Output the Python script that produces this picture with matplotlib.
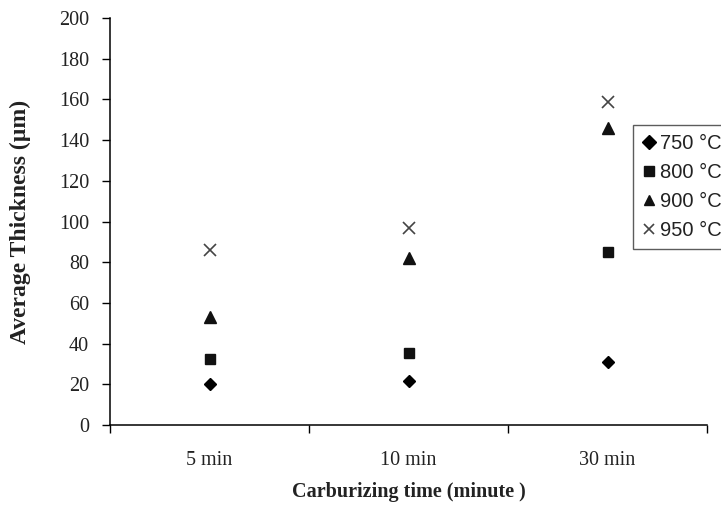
import numpy as np
import matplotlib.pyplot as plt

times = ['5 min', '10 min', '30 min']
t750 = [20.3, 21.5, 31.0]
t800 = [32.6, 35.2, 84.9]
t900 = [53.2, 81.9, 146.0]
t950 = [86.0, 97.0, 159.0]

fig = plt.figure(figsize=(7.21, 5.15), dpi=100)
ax = fig.add_axes([0.1526, 0.1748, 0.828, 0.790])

xpos = np.arange(len(times)) + 0.5
ax.plot(xpos, t750, 'D', color='black', ms=6, ls='none', label='750 \u00b0C')
ax.plot(xpos, t800, 's', color='#111111', ms=7.5, ls='none', label='800 \u00b0C')
ax.plot(xpos, t900, '^', color='#111111', ms=8, ls='none', label='900 \u00b0C')
ax.plot(xpos, t950, 'x', color='#444444', ms=9, mew=1.2, ls='none', label='950 \u00b0C')

ax.set_xlim(0, 3)
ax.set_ylim(0, 200)
ax.set_yticks(range(0, 201, 20))
ax.set_xticks([0, 1, 2, 3])
ax.set_xticklabels([])
ax.set_xticks(xpos, minor=True)
ax.set_xticklabels(times, minor=True, fontfamily='Liberation Serif', fontsize=14.5,
                   color='#222222')
ax.tick_params(axis='x', which='minor', length=0, pad=19)
ax.tick_params(axis='x', which='major', length=6, direction='out', width=1)
ax.tick_params(axis='y', length=6, direction='out', width=1, pad=9)
for lab in ax.get_yticklabels():
    lab.set_fontfamily('Liberation Serif')
    lab.set_fontsize(14.5)
    lab.set_color('#222222')

for s in ['top', 'right']:
    ax.spines[s].set_visible(False)
for s in ['left', 'bottom']:
    ax.spines[s].set_linewidth(1.1)

ax.set_ylabel('Average Thickness (\u00b5m)', fontfamily='Liberation Serif',
              fontweight='bold', fontsize=17, color='#222222')
ax.set_xlabel('Carburizing time (minute )', fontfamily='Liberation Serif',
              fontweight='bold', fontsize=14.5, color='#222222')
ax.yaxis.set_label_coords(-0.133, 0.5)
ax.xaxis.set_label_coords(0.5, -0.14)

leg = fig.legend(loc='upper left', bbox_to_anchor=(0.878, 0.758),
                 prop={'family': 'Liberation Sans', 'size': 14.5},
                 frameon=True, fancybox=False, edgecolor='#333333',
                 handlelength=0.7, handletextpad=0.2, borderpad=0.45,
                 labelspacing=0.5, borderaxespad=0)
leg.get_frame().set_linewidth(1.0)
for h in leg.legend_handles:
    h.set_markersize(7)
for t in leg.get_texts():
    t.set_color('#222222')

fig.savefig('out.png', dpi=100)
